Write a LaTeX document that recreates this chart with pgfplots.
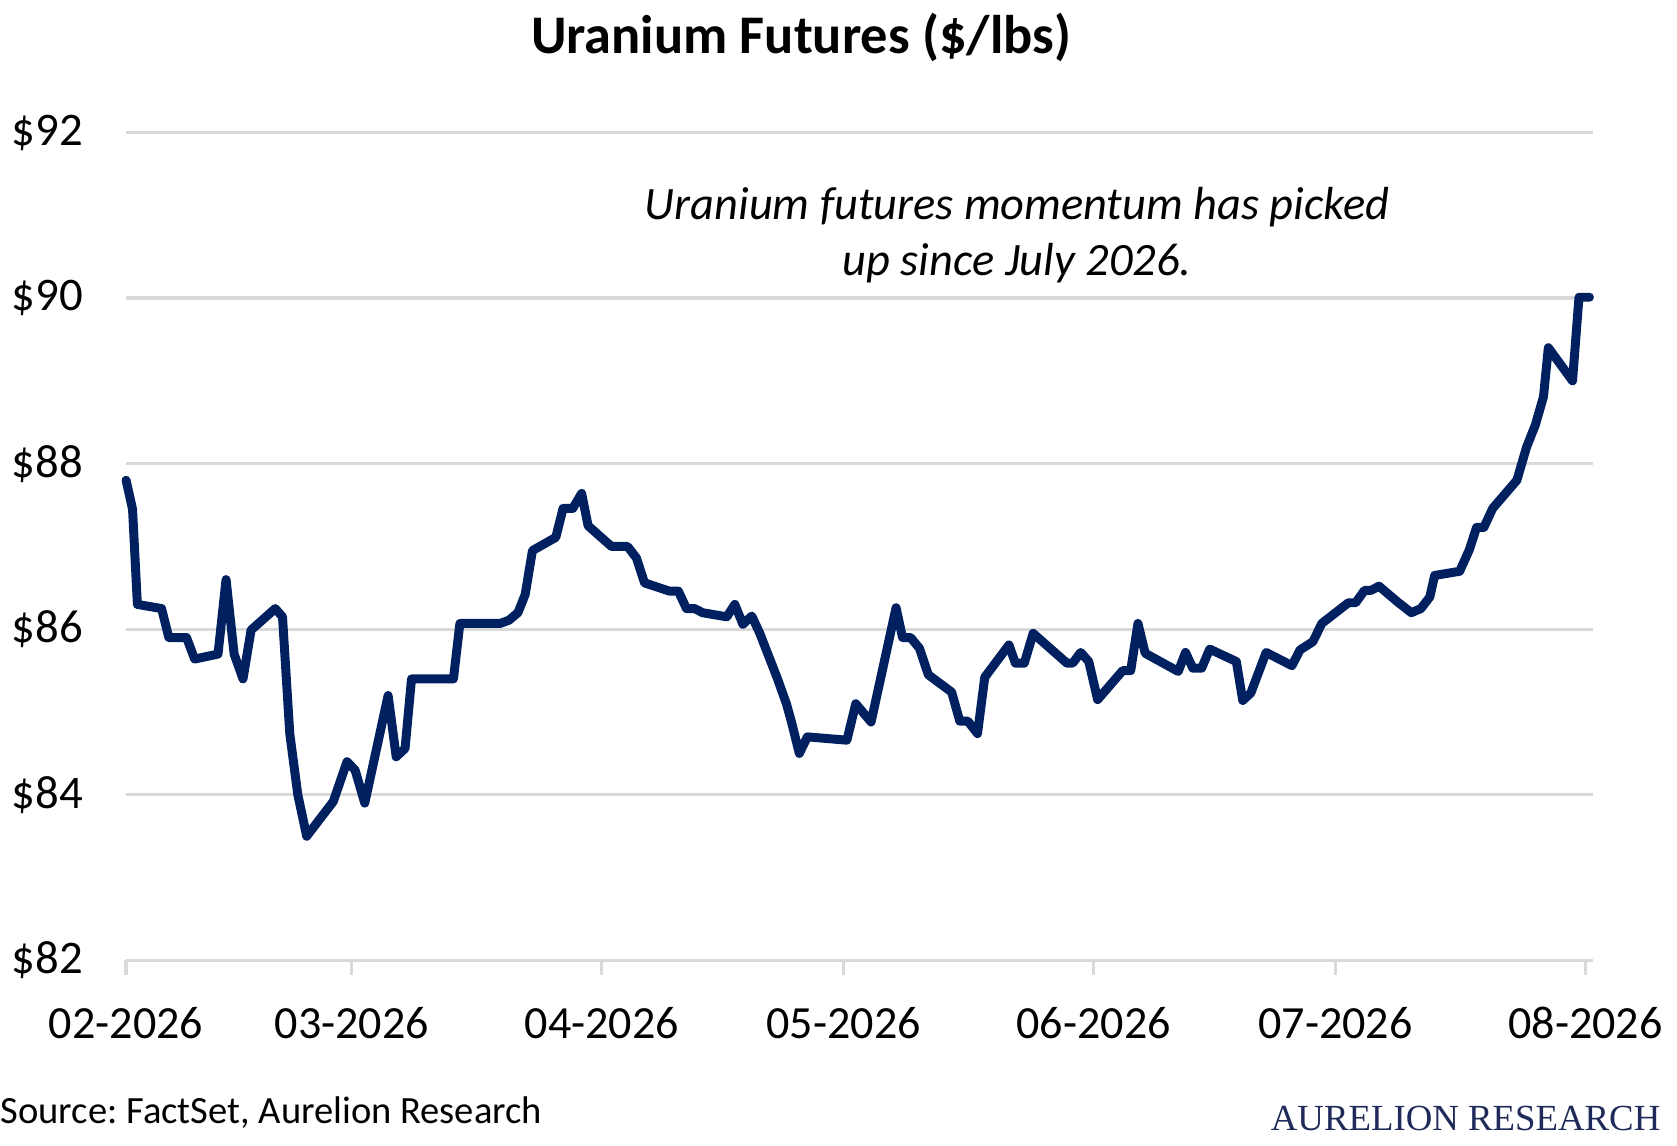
\documentclass[border=0pt]{standalone}
\usepackage{pgfplots}
\pgfplotsset{compat=1.18}
\usepackage{fontspec}
\setmainfont{Carlito}
\newfontfamily\brandfont{Liberation Serif}
\definecolor{navy}{RGB}{0,32,96}
\definecolor{gridgray}{RGB}{217,217,217}
\definecolor{brandnavy}{RGB}{31,42,90}
\frenchspacing
\begin{document}
\begin{tikzpicture}
\path[use as bounding box] (-39.4pt,-57.8pt) rectangle (484.6pt,300.1pt);
\begin{axis}[
  at={(0pt,0pt)}, anchor=south west,
  scale only axis, width=458.5pt, height=258.7pt,
  xmin=0, xmax=182, ymin=82, ymax=92,
  axis x line*=bottom, axis y line*=left,
  x axis line style={draw=gridgray, line width=1pt},
  y axis line style={draw=none},
  xtick={0,28,59,89,120,150,181},
  xticklabels={02-2026,03-2026,04-2026,05-2026,06-2026,07-2026,08-2026},
  ytick={82,84,86,88,90,92},
  yticklabels={\$82,\$84,\$86,\$88,\$90,\$92},
  tick align=outside,
  major tick length=4.5pt,
  xtick style={draw=gridgray, line width=1pt},
  ytick style={draw=none},
  ymajorgrids,
  grid style={draw=gridgray, line width=1pt},
  xticklabel style={font=\fontsize{14.4}{16}\selectfont, inner sep=0pt, anchor=base, yshift=-20pt},
  yticklabel style={font=\fontsize{14.6}{16}\selectfont, inner sep=0pt, anchor=east, xshift=-8.8pt},
  clip=false,
]
\addplot[navy, line width=2.8pt, line join=round, line cap=round] coordinates {
(0,87.80) (0.8,87.45) (1.4,86.30) (4.4,86.25) (5.3,85.90) (7.5,85.90) (8.5,85.64)
(11.4,85.70) (12.4,86.60) (13.4,85.70) (14.5,85.40) (15.5,85.99) (18.5,86.25) (19.4,86.15)
(20.3,84.74) (21.3,84.00) (22.4,83.50) (25.7,83.92) (27.4,84.40) (28.4,84.30) (29.6,83.90)
(32.5,85.20) (33.5,84.46) (34.6,84.56) (35.4,85.40) (40.6,85.40) (41.4,86.07) (46.4,86.07)
(47.5,86.11) (48.6,86.20) (49.5,86.42) (50.4,86.95) (53.3,87.11) (54.2,87.46) (55.4,87.46)
(56.5,87.64) (57.3,87.25) (60.2,87.00) (62.2,87.00) (63.3,86.86) (64.3,86.56) (67.4,86.46)
(68.5,86.46) (69.5,86.25) (70.5,86.25) (71.5,86.20) (74.5,86.15) (75.5,86.30) (76.5,86.06)
(77.6,86.16) (78.6,85.95) (80.8,85.40) (81.9,85.10) (82.5,84.89) (83.5,84.50) (84.5,84.70)
(89.4,84.66) (90.5,85.10) (92.4,84.88) (95.5,86.26) (96.3,85.90) (97.3,85.90) (98.4,85.77)
(99.5,85.45) (102.4,85.24) (103.4,84.89) (104.4,84.89) (105.6,84.74) (106.5,85.42) (109.5,85.81)
(110.3,85.59) (111.4,85.59) (112.5,85.95) (116.7,85.59) (117.4,85.59) (118.4,85.72) (119.4,85.61)
(120.5,85.15) (123.6,85.50) (124.6,85.50) (125.5,86.07) (126.4,85.71) (130.5,85.49) (131.4,85.72)
(132.3,85.53) (133.4,85.53) (134.4,85.76) (137.7,85.61) (138.5,85.14) (139.5,85.23) (141.4,85.72)
(144.6,85.56) (145.6,85.75) (147.2,85.85) (148.3,86.07) (151.6,86.32) (152.5,86.32) (153.6,86.47)
(154.4,86.47) (155.4,86.52) (157.7,86.33) (159.4,86.20) (160.6,86.25) (161.7,86.39) (162.3,86.65)
(165.4,86.70) (166.6,86.96) (167.5,87.23) (168.4,87.23) (169.5,87.46) (172.5,87.80) (173.7,88.20)
(174.8,88.47) (175.8,88.81) (176.4,89.40) (179.4,89.00) (180.2,90.01) (181.5,90.01)
};
\end{axis}
\node[anchor=base, inner sep=0pt, font=\fontsize{17}{20}\selectfont\bfseries] at (210.9pt,283.4pt) {Uranium Futures (\$/lbs)};
\node[anchor=base, inner sep=0pt, font=\fontsize{14.5}{17}\selectfont\itshape] at (278.4pt,231.6pt) {Uranium futures momentum has picked};
\node[anchor=base, inner sep=0pt, font=\fontsize{14.5}{17}\selectfont\itshape] at (278.4pt,213.9pt) {up since July 2026.};
\node[anchor=base west, inner sep=0pt, font=\fontsize{12.05}{15}\selectfont] at (-39.4pt,-50.8pt) {Source: FactSet, Aurelion Research};
\node[anchor=base east, inner sep=0pt, font=\fontsize{11.5}{14}\selectfont\brandfont, text=brandnavy] at (479.6pt,-53.1pt) {AURELION RESEARCH};
\end{tikzpicture}
\end{document}
